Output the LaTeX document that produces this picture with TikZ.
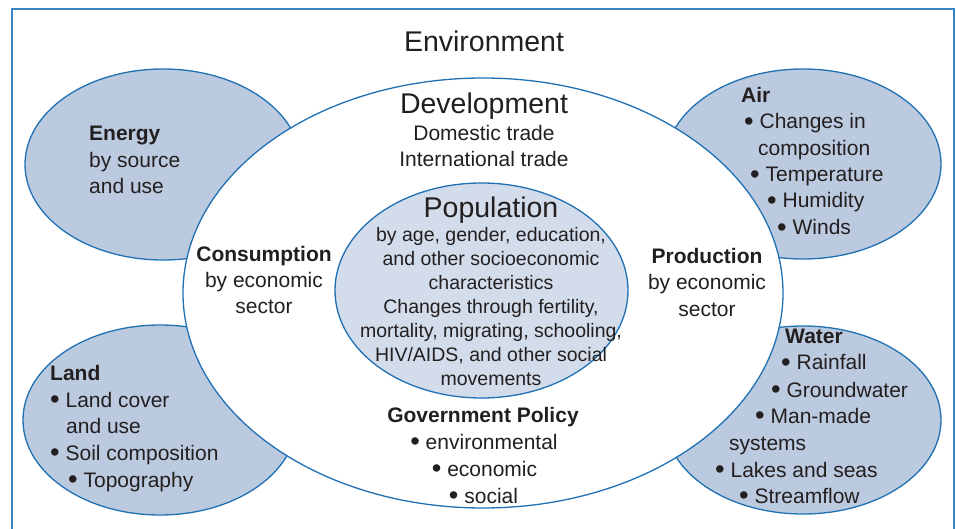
\documentclass[tikz,border=0pt]{standalone}
\usepackage{fontspec}
\usepackage{graphicx}
\setmainfont{Liberation Sans}
\usetikzlibrary{shapes.geometric}
\definecolor{frameblue}{HTML}{3A84C4}
\definecolor{edgeblue}{HTML}{2070B4}
\definecolor{outerfill}{HTML}{BCCADF}
\definecolor{popfill}{HTML}{D3DCEA}
\definecolor{ink}{HTML}{231F20}
\newcommand\mybul{\raisebox{-0.12ex}{\scalebox{1.3}{•}}\ }
\begin{document}
\begin{tikzpicture}[x=1pt,y=-1pt,
  blob/.style={ellipse, draw=edgeblue, line width=1.3pt, inner sep=0pt, outer sep=0pt},
  title/.style={font=\fontsize{28.5}{34}\selectfont, text=ink, inner sep=0pt, anchor=base},
  body/.style={font=\fontsize{21}{26}\selectfont, text=ink, inner sep=0pt, anchor=base},
  bodyl/.style={body, anchor=base west},
  head/.style={body, font=\fontsize{21}{26}\selectfont\bfseries},
  headl/.style={head, anchor=base west},
  pop/.style={font=\fontsize{19.5}{24}\selectfont, text=ink, inner sep=0pt, anchor=base}]
\useasboundingbox (0,0) rectangle (956,529);
\begin{scope}
\clip (0,0) rectangle (956,529);
\draw[frameblue, line width=2pt] (12,9) rectangle (954,560);
\end{scope}
% outer ellipses
\node[blob, fill=outerfill, minimum width=276pt, minimum height=191pt] (energyE) at (163,164.5) {};
\node[blob, fill=outerfill, minimum width=274pt, minimum height=190pt] (landE) at (160,420) {};
\node[blob, fill=outerfill, minimum width=276pt, minimum height=190pt] (airE) at (803,164) {};
\node[blob, fill=outerfill, minimum width=276pt, minimum height=188pt] (waterE) at (803,420) {};
% development ellipse
\node[blob, fill=white, minimum width=600pt, minimum height=430pt] (devE) at (483,293) {};
% population ellipse
\node[blob, fill=popfill, minimum width=293pt, minimum height=215pt] (popE) at (481.5,290.5) {};
% texts
\node[title] (env) at (484,52) {Environment};
\node[title] (dev) at (484,114) {Development};
\node[body] (dev1) at (484,141) {Domestic trade};
\node[body] (dev2) at (484,167) {International trade};
\node[title] (popT) at (491,218) {Population};
\node[pop] (pop1) at (491,241.5) {by age, gender, education,};
\node[pop] (pop2) at (491,265.5) {and other socioeconomic};
\node[pop] (pop3) at (491,289.5) {characteristics};
\node[pop] (pop4) at (491,313.5) {Changes through fertility,};
\node[pop] (pop5) at (491,337.5) {mortality, migrating, schooling,};
\node[pop] (pop6) at (491,361.5) {HIV/AIDS, and other social};
\node[pop] (pop7) at (491,385.5) {movements};
\node[head] (cons) at (264,262) {Consumption};
\node[body] (cons1) at (264,288) {by economic};
\node[body] (cons2) at (264,314) {sector};
\node[head] (prod) at (707,264) {Production};
\node[body] (prod1) at (707,290) {by economic};
\node[body] (prod2) at (707,317) {sector};
\node[head] (gov) at (483,422) {Government Policy};
\node[body] (gov1) at (484,449) {\mybul environmental};
\node[body] (gov2) at (484.5,476) {\mybul economic};
\node[body] (gov3) at (483.5,503) {\mybul social};
\node[headl] (energy) at (89,141) {Energy};
\node[bodyl] (energy1) at (89,168) {by source};
\node[bodyl] (energy2) at (89,194) {and use};
\node[headl] (land) at (50,380) {Land};
\node[bodyl] (land1) at (50,407) {\mybul Land cover};
\node[bodyl] (land2) at (66,433) {and use};
\node[bodyl] (land3) at (50,460) {\mybul Soil composition};
\node[bodyl] (land4) at (68,487) {\mybul Topography};
\node[headl] (air) at (741,103) {Air};
\node[bodyl] (air1) at (744,129) {\mybul Changes in};
\node[bodyl] (air2) at (758,156) {composition};
\node[bodyl] (air3) at (750,182) {\mybul Temperature};
\node[bodyl] (air4) at (767,208) {\mybul Humidity};
\node[bodyl] (air5) at (777,235) {\mybul Winds};
\node[headl] (water) at (785,344) {Water};
\node[bodyl] (water1) at (781,370) {\mybul Rainfall};
\node[bodyl] (water2) at (771,397) {\mybul Groundwater};
\node[bodyl] (water3) at (755,423) {\mybul Man-made};
\node[bodyl] (water4) at (729,450) {systems};
\node[bodyl] (water5) at (715,477) {\mybul Lakes and seas};
\node[bodyl] (water6) at (739,503) {\mybul Streamflow};
\end{tikzpicture}
\end{document}
